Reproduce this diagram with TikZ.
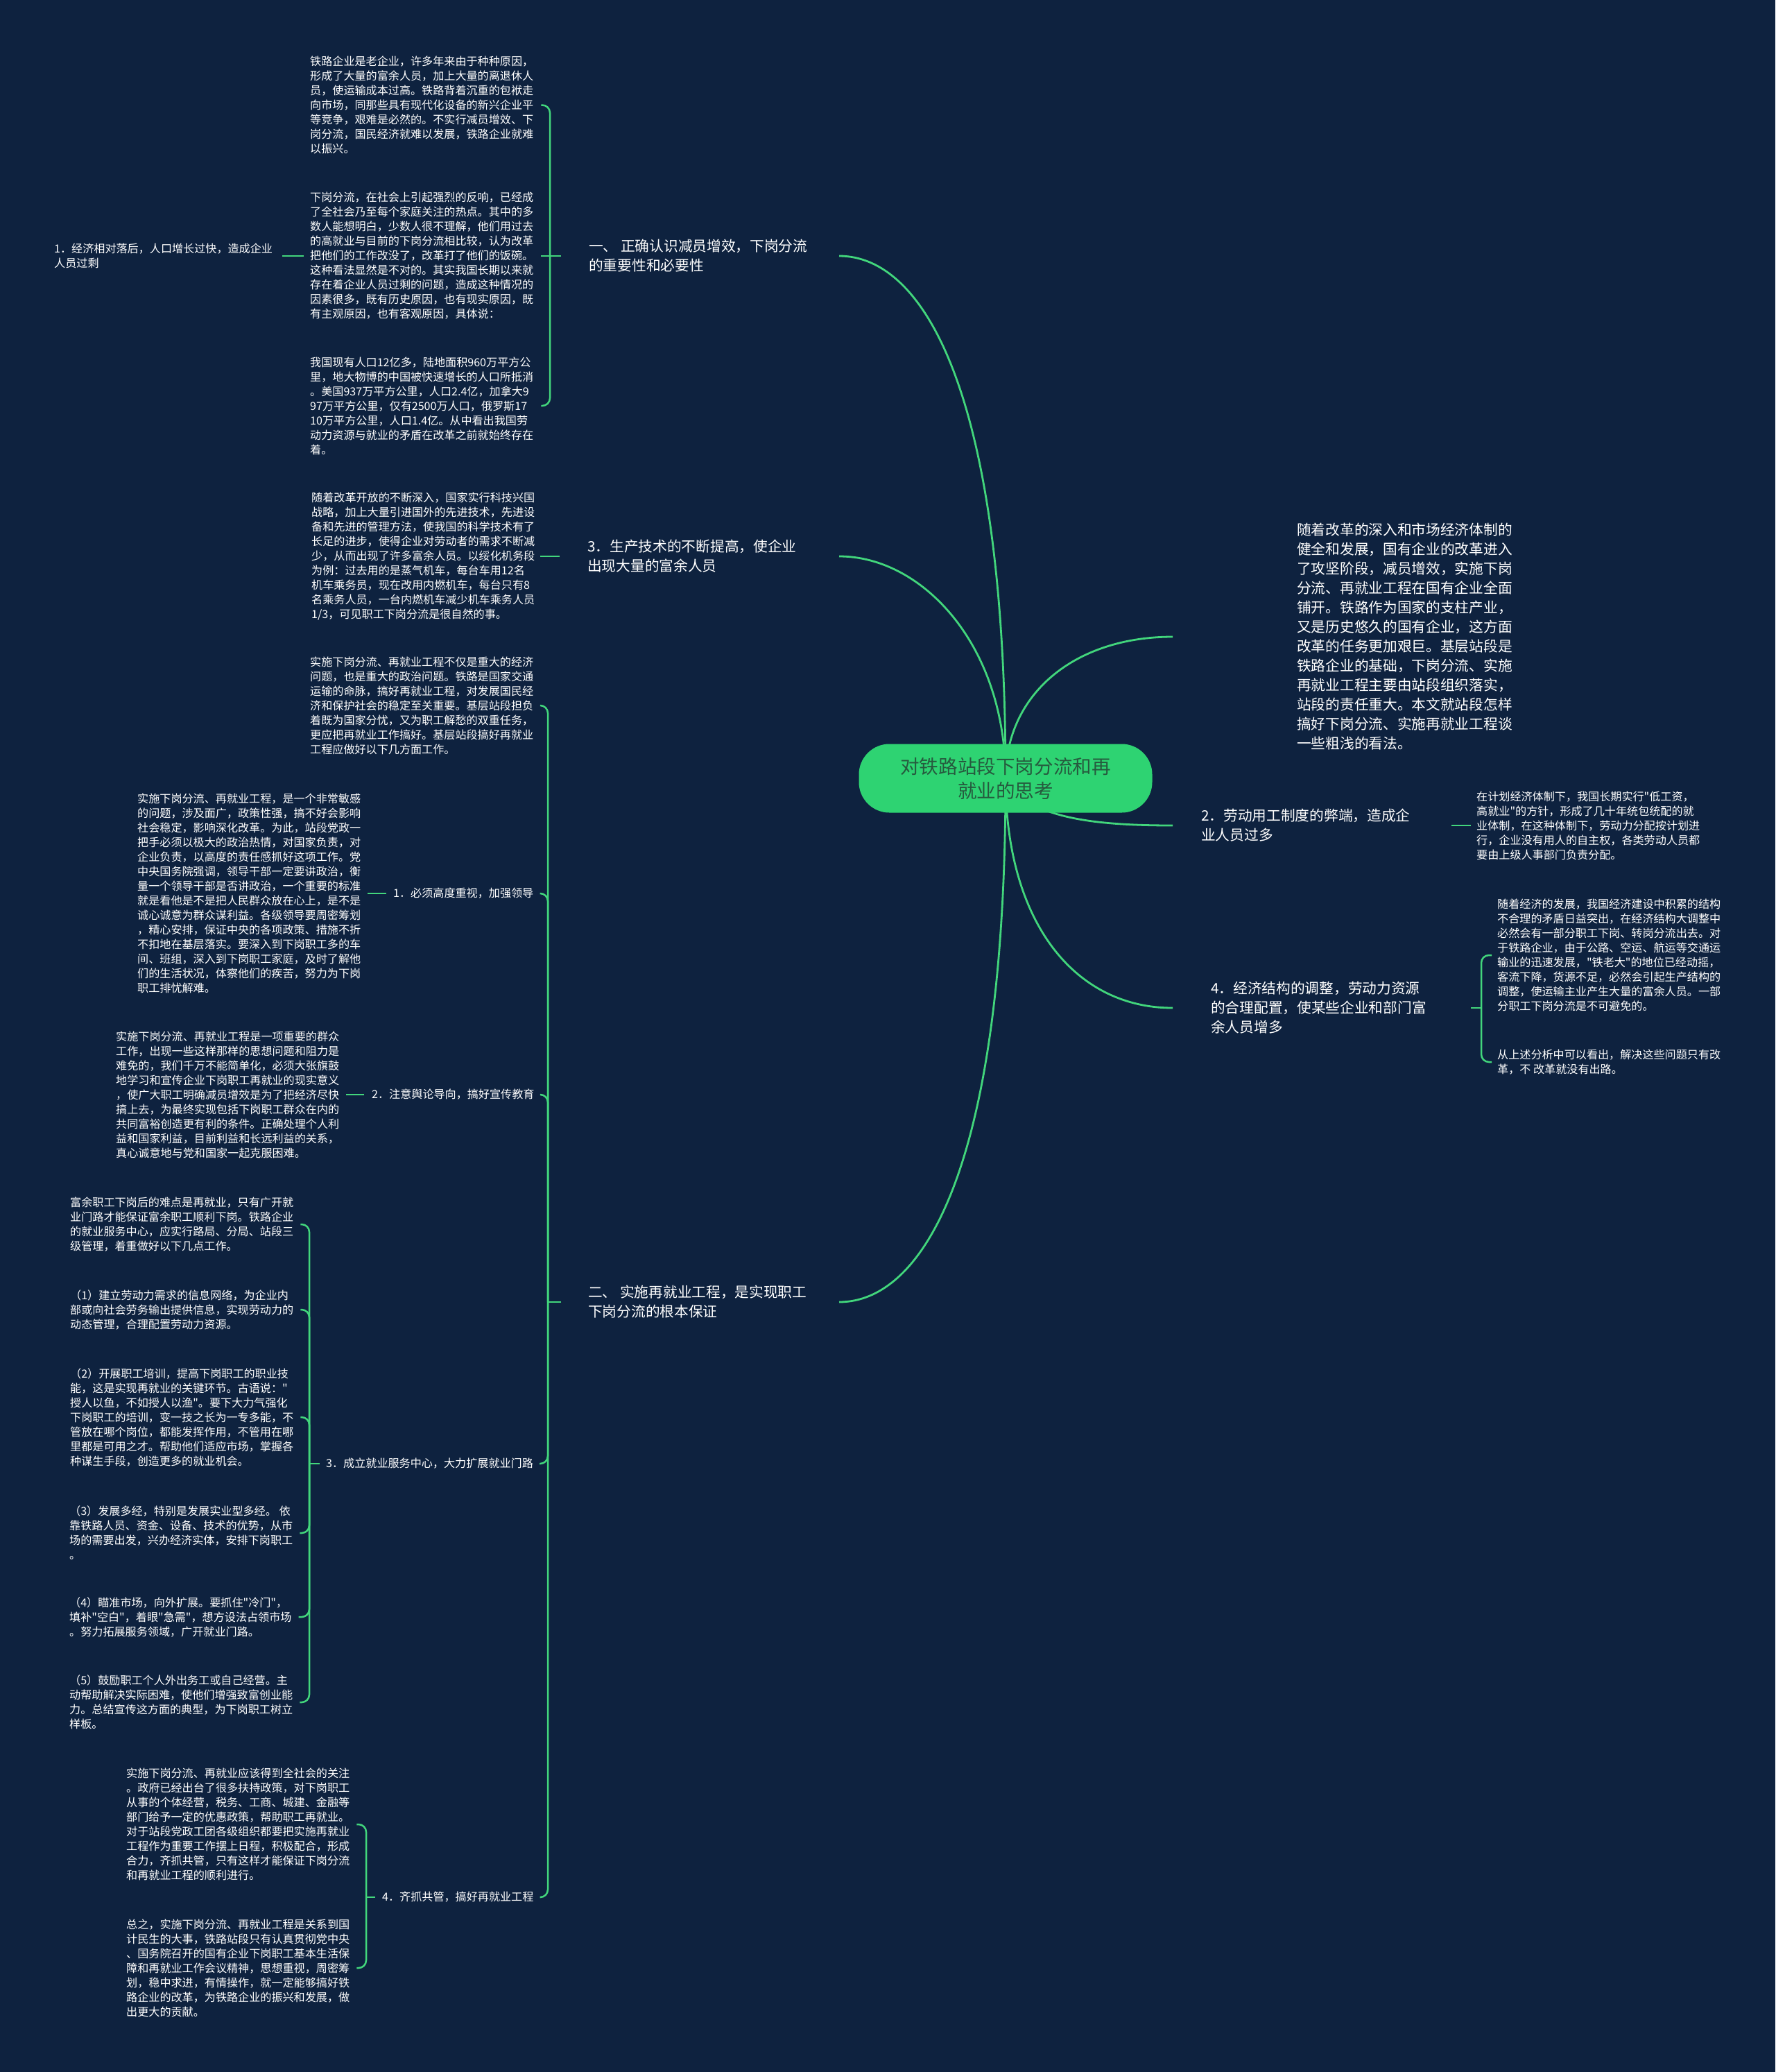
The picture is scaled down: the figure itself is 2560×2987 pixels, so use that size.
\documentclass[tikz,border=0pt]{standalone}
\usepackage{fontspec}
\newfontfamily\cjk{Noto Sans CJK SC}
\definecolor{bgnavy}{RGB}{14,34,63}
\definecolor{linkgreen}{RGB}{66,214,124}
\definecolor{rootgreen}{RGB}{46,211,114}
\definecolor{rootink}{RGB}{38,90,62}
\tikzset{
  rootbox/.style={fill=rootgreen, rounded corners=44pt, minimum width=423pt, minimum height=99pt, align=center, text=rootink, font=\cjk\fontsize{27.6pt}{35pt}\selectfont},
  head/.style={inner sep=0pt, anchor=west, align=left, text=white, font=\cjk\fontsize{20.7pt}{28pt}\selectfont},
  leaf/.style={inner sep=0pt, anchor=west, align=left, text=white, font=\cjk\fontsize{16.1pt}{21pt}\selectfont},
  branch/.style={draw=linkgreen, line width=2.8pt},
  link/.style={draw=linkgreen, line width=2.5pt, rounded corners=11pt},
}
\begin{document}
\begin{tikzpicture}[x=1pt, y=-1pt]
\fill[bgnavy] (0,0) rectangle (2560,2987);
\useasboundingbox (0,0) rectangle (2560,2987);

\node[head] (h1) at (849,369) {一、 正确认识减员增效，下岗分流\\的重要性和必要性};
\node[leaf] (pa) at (447,151.5) {铁路企业是老企业，许多年来由于种种原因，\\形成了大量的富余人员，加上大量的离退休人\\员，使运输成本过高。铁路背着沉重的包袱走\\向市场，同那些具有现代化设备的新兴企业平\\等竞争，艰难是必然的。不实行减员增效、下\\岗分流，国民经济就难以发展，铁路企业就难\\以振兴。};
\node[leaf] (pb) at (447,369) {下岗分流，在社会上引起强烈的反响，已经成\\了全社会乃至每个家庭关注的热点。其中的多\\数人能想明白，少数人很不理解，他们用过去\\的高就业与目前的下岗分流相比较，认为改革\\把他们的工作改没了，改革打了他们的饭碗。\\这种看法显然是不对的。其实我国长期以来就\\存在着企业人员过剩的问题，造成这种情况的\\因素很多，既有历史原因，也有现实原因，既\\有主观原因，也有客观原因，具体说：};
\node[leaf] (pc) at (447,585) {我国现有人口12亿多，陆地面积960万平方公\\里，地大物博的中国被快速增长的人口所抵消\\。美国937万平方公里，人口2.4亿，加拿大9\\97万平方公里，仅有2500万人口，俄罗斯17\\10万平方公里，人口1.4亿。从中看出我国劳\\动力资源与就业的矛盾在改革之前就始终存在\\着。};
\node[leaf] (l1) at (78,369) {1．经济相对落后，人口增长过快，造成企业\\人员过剩};

\node[head] (h3) at (847,802) {3．生产技术的不断提高，使企业\\出现大量的富余人员};
\node[leaf] (pd) at (449,802) {随着改革开放的不断深入，国家实行科技兴国\\战略，加上大量引进国外的先进技术，先进设\\备和先进的管理方法，使我国的科学技术有了\\长足的进步，使得企业对劳动者的需求不断减\\少，从而出现了许多富余人员。以绥化机务段\\为例：过去用的是蒸气机车，每台车用12名\\机车乘务员，现在改用内燃机车，每台只有8\\名乘务人员，一台内燃机车减少机车乘务人员\\1/3，可见职工下岗分流是很自然的事。};

\node[head] (h2) at (848,1877) {二、 实施再就业工程，是实现职工\\下岗分流的根本保证};
\node[leaf] (c0) at (447,1017) {实施下岗分流、再就业工程不仅是重大的经济\\问题，也是重大的政治问题。铁路是国家交通\\运输的命脉，搞好再就业工程，对发展国民经\\济和保护社会的稳定至关重要。基层站段担负\\着既为国家分忧，又为职工解愁的双重任务，\\更应把再就业工作搞好。基层站段搞好再就业\\工程应做好以下几方面工作。};
\node[leaf] (c1) at (567,1288) {1．必须高度重视，加强领导};
\node[leaf] (p1) at (198,1288) {实施下岗分流、再就业工程，是一个非常敏感\\的问题，涉及面广，政策性强，搞不好会影响\\社会稳定，影响深化改革。为此，站段党政一\\把手必须以极大的政治热情，对国家负责，对\\企业负责，以高度的责任感抓好这项工作。党\\中央国务院强调，领导干部一定要讲政治，衡\\量一个领导干部是否讲政治，一个重要的标准\\就是看他是不是把人民群众放在心上，是不是\\诚心诚意为群众谋利益。各级领导要周密筹划\\，精心安排，保证中央的各项政策、措施不折\\不扣地在基层落实。要深入到下岗职工多的车\\间、班组，深入到下岗职工家庭，及时了解他\\们的生活状况，体察他们的疾苦，努力为下岗\\职工排忧解难。};
\node[leaf] (c2) at (536,1578) {2．注意舆论导向，搞好宣传教育};
\node[leaf] (p2) at (167,1578) {实施下岗分流、再就业工程是一项重要的群众\\工作，出现一些这样那样的思想问题和阻力是\\难免的，我们千万不能简单化，必须大张旗鼓\\地学习和宣传企业下岗职工再就业的现实意义\\，使广大职工明确减员增效是为了把经济尽快\\搞上去，为最终实现包括下岗职工群众在内的\\共同富裕创造更有利的条件。正确处理个人利\\益和国家利益，目前利益和长远利益的关系，\\真心诚意地与党和国家一起克服困难。};
\node[leaf] (c3) at (470,2110) {3．成立就业服务中心，大力扩展就业门路};
\node[leaf] (q0) at (101,1765) {富余职工下岗后的难点是再就业，只有广开就\\业门路才能保证富余职工顺利下岗。铁路企业\\的就业服务中心，应实行路局、分局、站段三\\级管理，着重做好以下几点工作。};
\node[leaf] (q1) at (101,1888) {（1）建立劳动力需求的信息网络，为企业内\\部或向社会劳务输出提供信息，实现劳动力的\\动态管理，合理配置劳动力资源。};
\node[leaf] (q2) at (101,2043) {（2）开展职工培训，提高下岗职工的职业技\\能，这是实现再就业的关键环节。古语说："\\授人以鱼，不如授人以渔"。要下大力气强化\\下岗职工的培训，变一技之长为一专多能，不\\管放在哪个岗位，都能发挥作用，不管用在哪\\里都是可用之才。帮助他们适应市场，掌握各\\种谋生手段，创造更多的就业机会。};
\node[leaf] (q3) at (100,2210) {（3）发展多经，特别是发展实业型多经。 依\\靠铁路人员、资金、设备、技术的优势，从市\\场的需要出发，兴办经济实体，安排下岗职工\\。};
\node[leaf] (q4) at (100,2331) {（4）瞄准市场，向外扩展。要抓住"冷门"，\\填补"空白"，着眼"急需"，想方设法占领市场\\。努力拓展服务领域，广开就业门路。};
\node[leaf] (q5) at (100,2454) {（5）鼓励职工个人外出务工或自己经营。主\\动帮助解决实际困难，使他们增强致富创业能\\力。总结宣传这方面的典型，为下岗职工树立\\样板。};
\node[leaf] (c4) at (551,2735) {4．齐抓共管，搞好再就业工程};
\node[leaf] (r1) at (182,2630) {实施下岗分流、再就业应该得到全社会的关注\\。政府已经出台了很多扶持政策，对下岗职工\\从事的个体经营，税务、工商、城建、金融等\\部门给予一定的优惠政策，帮助职工再就业。\\对于站段党政工团各级组织都要把实施再就业\\工程作为重要工作摆上日程，积极配合，形成\\合力，齐抓共管，只有这样才能保证下岗分流\\和再就业工程的顺利进行。};
\node[leaf] (r2) at (182,2837) {总之，实施下岗分流、再就业工程是关系到国\\计民生的大事，铁路站段只有认真贯彻党中央\\、国务院召开的国有企业下岗职工基本生活保\\障和再就业工作会议精神，思想重视，周密筹\\划，稳中求进，有情操作，就一定能够搞好铁\\路企业的改革，为铁路企业的振兴和发展，做\\出更大的贡献。};

\node[head] (intro) at (1870,918) {随着改革的深入和市场经济体制的\\健全和发展，国有企业的改革进入\\了攻坚阶段，减员增效，实施下岗\\分流、再就业工程在国有企业全面\\铺开。铁路作为国家的支柱产业，\\又是历史悠久的国有企业，这方面\\改革的任务更加艰巨。基层站段是\\铁路企业的基础，下岗分流、实施\\再就业工程主要由站段组织落实，\\站段的责任重大。本文就站段怎样\\搞好下岗分流、实施再就业工程谈\\一些粗浅的看法。};
\node[head] (hr2) at (1732,1190) {2．劳动用工制度的弊端，造成企\\业人员过多};
\node[leaf] (s1) at (2129,1190) {在计划经济体制下，我国长期实行"低工资，\\高就业"的方针，形成了几十年统包统配的就\\业体制，在这种体制下，劳动力分配按计划进\\行，企业没有用人的自主权，各类劳动人员都\\要由上级人事部门负责分配。};
\node[head] (hr4) at (1746,1453) {4．经济结构的调整，劳动力资源\\的合理配置，使某些企业和部门富\\余人员增多};
\node[leaf] (t1) at (2159,1377) {随着经济的发展，我国经济建设中积累的结构\\不合理的矛盾日益突出，在经济结构大调整中\\必然会有一部分职工下岗、转岗分流出去。对\\于铁路企业，由于公路、空运、航运等交通运\\输业的迅速发展，"铁老大"的地位已经动摇，\\客流下降，货源不足，必然会引起生产结构的\\调整，使运输主业产生大量的富余人员。一部\\分职工下岗分流是不可避免的。};
\node[leaf] (t2) at (2159,1531) {从上述分析中可以看出，解决这些问题只有改\\革，不 改革就没有出路。};

\coordinate (hub) at (1450,1122);
\coordinate (lgate) at (1210,0);
\coordinate (rgate) at (1691,0);
\draw[branch] (hub) .. controls (1450,560) and (1330,369) .. (h1.east -| lgate);
\draw[branch] (hub) .. controls (1450,930) and (1330,802) .. (h3.east -| lgate);
\draw[branch] (hub) .. controls (1450,1687) and (1330,1877) .. (h2.east -| lgate);
\draw[branch] (hub) .. controls (1450,1000) and (1550,918) .. (intro.west -| rgate);
\draw[branch] (hub) .. controls (1480,1180) and (1580,1190) .. (hr2.west -| rgate);
\draw[branch] (hub) .. controls (1450,1330) and (1550,1453) .. (hr4.west -| rgate);
\node[rootbox] (root) at (hub) {对铁路站段下岗分流和再\\就业的思考};

\coordinate (j1) at (793,369);
\draw[link] ([xshift=-40pt]h1.west) -- ([xshift=11pt]pb.east);
\draw[link] (j1) |- ([xshift=11pt]pa.east);
\draw[link] (j1) |- ([xshift=11pt]pc.east);
\draw[link] ([xshift=-9pt]pb.west) -- ([xshift=14pt]l1.east);
\draw[link] ([xshift=-40pt]h3.west) -- ([xshift=8pt]pd.east);

\coordinate (j2) at (790,1877);
\draw[link] ([xshift=-39pt]h2.west) -- (j2);
\draw[link] (j2) |- ([xshift=11pt]c0.east);
\draw[link] (j2) |- ([xshift=9pt]c1.east);
\draw[link] (j2) |- ([xshift=9pt]c2.east);
\draw[link] (j2) |- ([xshift=9pt]c3.east);
\draw[link] (j2) |- ([xshift=9pt]c4.east);
\draw[link] ([xshift=-10pt]c1.west) -- ([xshift=10pt]p1.east);
\draw[link] ([xshift=-11pt]c2.west) -- ([xshift=10pt]p2.east);

\coordinate (j3) at (446,2110);
\draw[link] ([xshift=-9pt]c3.west) -- (j3);
\foreach \q in {q0,q1,q2,q3,q4,q5}
  \draw[link] (j3) |- ([xshift=10pt]\q.east);

\coordinate (j4) at (528,2735);
\draw[link] ([xshift=-10pt]c4.west) -- (j4);
\draw[link] (j4) |- ([xshift=10pt]r1.east);
\draw[link] (j4) |- ([xshift=10pt]r2.east);

\draw[link] ([xshift=59pt]hr2.east) -- ([xshift=-8pt]s1.west);
\coordinate (j5) at (2136,1453);
\draw[link] ([xshift=-15pt]j5) -- (j5);
\draw[link] (j5) |- ([xshift=-8pt]t1.west);
\draw[link] (j5) |- ([xshift=-8pt]t2.west);
\end{tikzpicture}
\end{document}
